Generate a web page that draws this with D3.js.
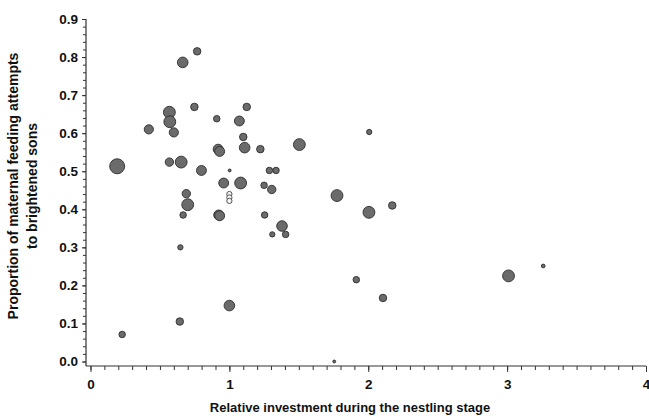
<!DOCTYPE html>
<html>
<head>
<meta charset="utf-8">
<script src="https://cdn.jsdelivr.net/npm/d3@7"></script>
<style>
body { margin: 0; background: #fff; }
text { font-family: "Liberation Sans", Arial, sans-serif; font-weight: bold; fill: #111; }
</style>
</head>
<body>
<svg width="649" height="416"></svg>
<script>
// relative investment (x), proportion to brightened sons (y), brood weight (circle size)
var invest = [0.768, 0.664, 0.748, 1.125, 0.568, 0.571, 0.909, 1.072, 0.42, 0.60,
              1.10, 0.919, 0.93, 1.11, 1.223, 0.192, 0.568, 0.653, 0.799, 1.002,
              1.288, 1.336, 0.959, 1.081, 1.25, 1.305, 0.69, 1.504, 1.775, 0.70,
              0.667, 0.923, 0.93, 1.254, 1.379, 1.309, 1.405, 0.647, 2.005, 2.173,
              1.914, 2.106, 3.01, 3.26, 1.755, 2.007, 0.228, 0.643, 1.0];
var prop = [0.815, 0.786, 0.669, 0.669, 0.655, 0.630, 0.638, 0.632, 0.610, 0.602,
            0.590, 0.558, 0.552, 0.562, 0.558, 0.513, 0.524, 0.524, 0.502, 0.502,
            0.502, 0.502, 0.469, 0.469, 0.463, 0.452, 0.441, 0.570, 0.436, 0.412,
            0.385, 0.385, 0.383, 0.385, 0.356, 0.334, 0.334, 0.300, 0.392, 0.410,
            0.215, 0.167, 0.225, 0.251, 0.0, 0.603, 0.071, 0.105, 0.147];
var weight = [2, 4, 2, 2, 5, 5, 1.5, 3.5, 3, 3,
              2, 3.5, 3.5, 4, 2, 8, 2.5, 5, 3.5, 0.3,
              1.5, 1.5, 3.5, 5, 1.5, 2.5, 2.5, 5, 5, 5,
              1.5, 3.5, 3.5, 1.5, 4, 1, 1.5, 1, 5, 2,
              1.5, 2, 5, 0.5, 0.3, 1, 1.5, 2, 4];

// open (unfilled) circles
var openInvest = [1.0, 1.0, 1.0];
var openProp = [0.44, 0.431, 0.422];
var openWeight = [1, 1, 1];

var xTicks = [0, 1, 2, 3, 4];
var yTicks = [0, 0.1, 0.2, 0.3, 0.4, 0.5, 0.6, 0.7, 0.8, 0.9];

var svg = d3.select("svg");

var x = d3.scaleLinear().domain([0, 4]).range([90.5, 646]);
var y = d3.scaleLinear().domain([0, 0.9]).range([361.5, 19]);
var r = d3.scaleSqrt().domain([0, 8]).range([0, 7.5]);

var x0 = 86, yBottom = 366;

// x axis minor ticks
svg.append("g")
    .attr("transform", "translate(0," + yBottom + ")")
    .call(d3.axisBottom(x).tickValues(d3.range(0, 40.5, 1).map(function(d) { return d / 10; }))
        .tickSize(4).tickFormat(""))
    .call(function(g) { g.select(".domain").remove(); })
    .selectAll("line").attr("stroke", "#333");

// x axis major
var gx = svg.append("g")
    .attr("transform", "translate(0," + yBottom + ")")
    .call(d3.axisBottom(x).tickValues(xTicks).tickSize(6).tickPadding(7)
        .tickFormat(d3.format("d")));
gx.select(".domain").remove();
gx.selectAll("line").attr("stroke", "#333");
gx.selectAll("text").attr("font-size", 13.5).attr("font-family", null);

// y axis minor ticks
svg.append("g")
    .attr("transform", "translate(" + x0 + ",0)")
    .call(d3.axisLeft(y).tickValues(d3.range(0, 45.5, 1).map(function(d) { return d / 50; }))
        .tickSize(3).tickFormat(""))
    .call(function(g) { g.select(".domain").remove(); })
    .selectAll("line").attr("stroke", "#333");

var gy = svg.append("g")
    .attr("transform", "translate(" + x0 + ",0)")
    .call(d3.axisLeft(y).tickValues(yTicks).tickSize(4).tickPadding(4)
        .tickFormat(d3.format(".1f")));
gy.select(".domain").remove();
gy.selectAll("line").attr("stroke", "#333");
gy.selectAll("text").attr("font-size", 13.5).attr("font-family", null);

// axis lines
svg.append("line")
    .attr("x1", x0).attr("x2", x0)
    .attr("y1", y(0.9)).attr("y2", yBottom)
    .attr("stroke", "#333").attr("stroke-width", 1.2);
svg.append("line")
    .attr("x1", x0).attr("x2", x(4))
    .attr("y1", yBottom).attr("y2", yBottom)
    .attr("stroke", "#333").attr("stroke-width", 1.2);

// points
var pts = invest.map(function(d, i) { return { x: d, y: prop[i], w: weight[i] }; });
svg.append("g")
    .selectAll("circle")
    .data(pts)
    .enter().append("circle")
    .attr("cx", function(d) { return x(d.x); })
    .attr("cy", function(d) { return y(d.y); })
    .attr("r", function(d) { return r(d.w); })
    .attr("fill", "#6b6b6b")
    .attr("stroke", "#2e2e2e")
    .attr("stroke-width", 0.9);

var openPts = openInvest.map(function(d, i) { return { x: d, y: openProp[i], w: openWeight[i] }; });
svg.append("g")
    .selectAll("circle")
    .data(openPts)
    .enter().append("circle")
    .attr("cx", function(d) { return x(d.x); })
    .attr("cy", function(d) { return y(d.y); })
    .attr("r", function(d) { return r(d.w); })
    .attr("fill", "#f4f4f4")
    .attr("stroke", "#444")
    .attr("stroke-width", 0.9);

// titles
svg.append("text")
    .attr("x", 350).attr("y", 412)
    .attr("text-anchor", "middle")
    .attr("font-size", 13)
    .text("Relative investment during the nestling stage");

var yt = svg.append("text")
    .attr("transform", "translate(18,186) rotate(-90)")
    .attr("text-anchor", "middle")
    .attr("font-size", 14);
yt.append("tspan").attr("x", 0).attr("dy", 0).text("Proportion of maternal feeding attempts");
yt.append("tspan").attr("x", 0).attr("dy", 19).text("to brightened sons");
</script>
</body>
</html>
